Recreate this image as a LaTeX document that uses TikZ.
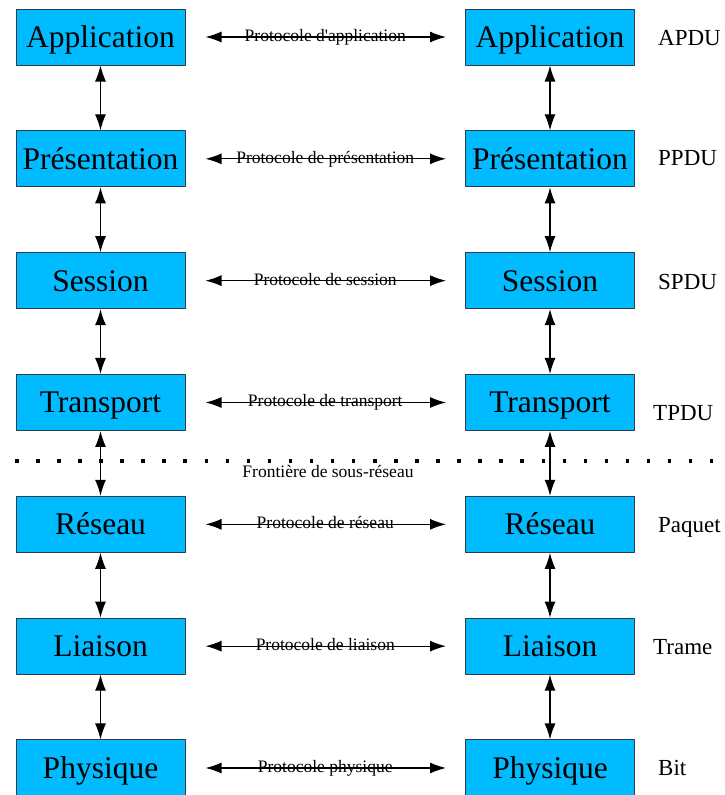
\documentclass[tikz,border=0pt]{standalone}
\usepackage{fontspec}
\setmainfont{Liberation Serif}
\usetikzlibrary{arrows.meta}
\definecolor{couche}{RGB}{0,187,255}
\definecolor{bordcouche}{RGB}{45,60,75}
\begin{document}
\begin{tikzpicture}[x=1pt,y=-1pt,line join=round,
    couche/.style={draw=bordcouche,fill=couche,line width=1pt,minimum width=169pt,
      minimum height=56pt,inner sep=0pt,text height=21pt,text depth=0pt,
      font=\fontsize{31.5}{36}\selectfont},
    proto/.style={inner sep=0pt,text height=9pt,text depth=0pt,font=\fontsize{17.5}{20}\selectfont},
    pdu/.style={anchor=west,inner sep=0pt,text height=15pt,text depth=0pt,font=\fontsize{23}{26}\selectfont},
    fleche/.style={line width=1.2pt,{Latex[length=16pt,width=11pt]}-{Latex[length=16pt,width=11pt]}}]
  \useasboundingbox (0,0) rectangle (724,795);
  \foreach \nom/\proto/\pdu/\px/\py [count=\i] in {
      Application/Protocole d\textquotesingle application/APDU/658/38,
      Présentation/Protocole de présentation/PPDU/658/158,
      Session/Protocole de session/SPDU/658/282,
      Transport/Protocole de transport/TPDU/653/413,
      Réseau/Protocole de réseau/Paquet/658/525,
      Liaison/Protocole de liaison/Trame/653/647,
      Physique/Protocole physique/Bit/658/768}
  {
    \node[couche] (g\i) at (100.5,37+121.83*\i-121.83) {\nom};
    \node[couche] (d\i) at (550,37+121.83*\i-121.83) {\nom};
    \node[pdu] (u\i) at (\px,\py) {\pdu};
    \draw[fleche,shorten <=20pt,shorten >=19pt] (g\i) -- node[proto] (p\i) {\proto} (d\i);
  }
  \foreach \i [evaluate=\i as \j using int(\i+1)] in {1,...,6}
  {
    \draw[fleche] (g\i.south) -- (g\j.north);
    \draw[fleche] (d\i.south) -- (d\j.north);
  }
  % frontiere
  \coordinate (fa) at (15,461);
  \coordinate (fb) at (716,461);
  \draw[line width=3.5pt,dash pattern=on 3.5pt off 17.56pt] (fa) -- (fb);
  \node[proto] (front) at (328,473) {Frontière de sous-réseau};
\end{tikzpicture}
\end{document}
